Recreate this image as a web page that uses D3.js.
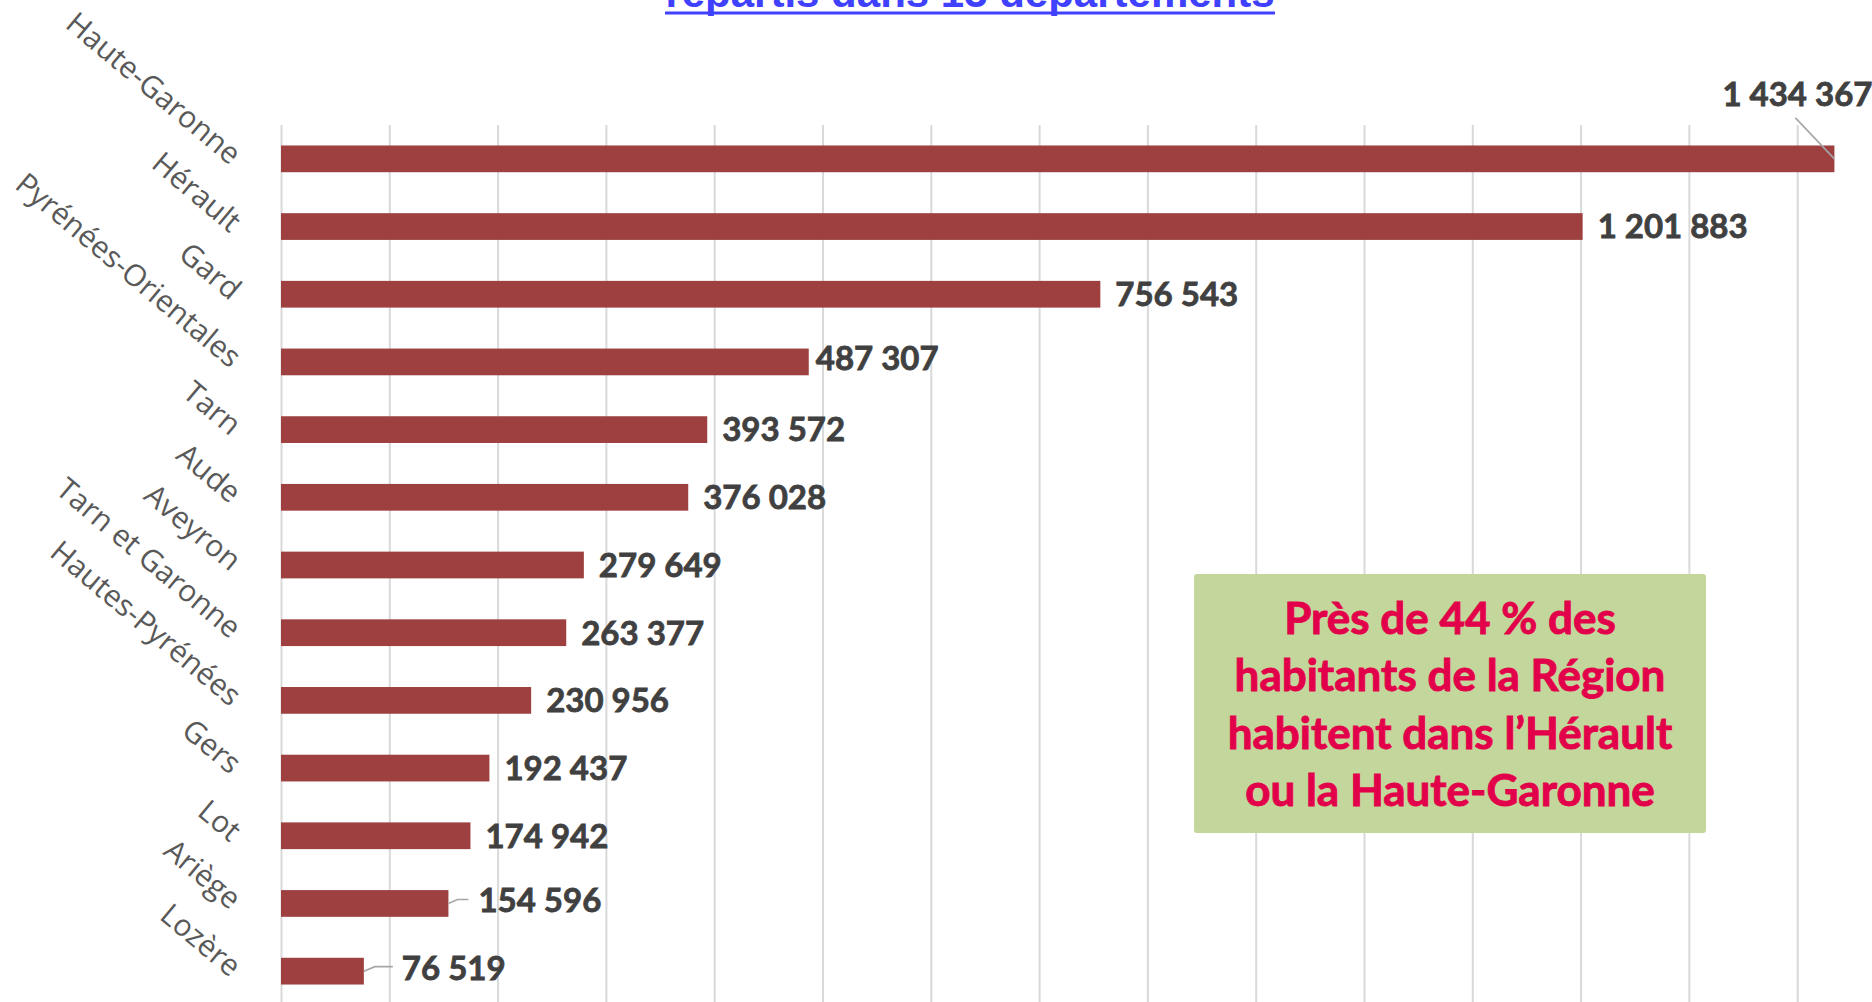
<!DOCTYPE html>
<html>
<head>
<meta charset="utf-8">
<script src="https://cdn.jsdelivr.net/npm/d3@7"></script>
<style>
  body { margin: 0; background: #fff; }
  svg { display: block; }
</style>
</head>
<body>
<div id="chart"></div>
<script>
const departements = ["Haute-Garonne", "Hérault", "Gard", "Pyrénées-Orientales", "Tarn", "Aude",
  "Aveyron", "Tarn et Garonne", "Hautes-Pyrénées", "Gers", "Lot", "Ariège", "Lozère"];
const habitants = [1434367, 1201883, 756543, 487307, 393572, 376028,
  279649, 263377, 230956, 192437, 174942, 154596, 76519];
const gridTicks = d3.range(0, 1500001, 100000);
const titleText = "répartis dans 13 départements";
const noteLines = ["Près de 44 % des", "habitants de la Région", "habitent dans l’Hérault", "ou la Haute-Garonne"];

const W = 1872, H = 1002;
const plotTop = 125, plotBottom = 1005;

const fr = d3.formatLocale({ decimal: ",", thousands: " ", grouping: [3], currency: ["", " €"] });
const fmt = fr.format(",d");

// label placement tweaks (like dragged labels in the original)
const labelNudge = {
  "Haute-Garonne": { dx: -112, dy: -65, leader: [[0, 0], [-39, -41]] },
  "Pyrénées-Orientales": { dx: 7, dy: -3.5 },
  "Ariège": { dx: 30, dy: -3.5, leader: [[0, 0], [9, -4], [20, -4]] },
  "Lozère": { dx: 38, dy: -3.5, leader: [[0, 0], [11, -4.5], [29, -4.5]] }
};

const svg = d3.select("#chart").append("svg")
  .attr("width", W)
  .attr("height", H);

const x = d3.scaleLinear()
  .domain([0, 1500000])
  .range([281, 281 + 15 * 108.3]);

const y = d3.scaleBand()
  .domain(departements)
  .range([plotTop, plotBottom])
  .paddingInner(0.605)
  .paddingOuter(0.3025);

// title (mostly cut off at the top)
svg.append("text")
  .attr("x", 970)
  .attr("y", 7)
  .attr("text-anchor", "middle")
  .attr("font-family", "Liberation Sans, Arial, sans-serif")
  .attr("font-weight", "bold")
  .attr("font-size", 42)
  .attr("fill", "#4040ff")
  .text(titleText);
svg.append("rect")
  .attr("x", 665).attr("y", 11.5)
  .attr("width", 610).attr("height", 3)
  .attr("fill", "#4040ff");

// vertical gridlines
const grid = svg.append("g")
  .attr("transform", `translate(0,${plotTop})`)
  .call(d3.axisTop(x)
    .tickValues(gridTicks)
    .tickSize(-(H - plotTop + 10))
    .tickFormat(""));
grid.select(".domain").remove();
grid.selectAll(".tick line")
  .attr("stroke", "#d9d9d9")
  .attr("stroke-width", 2);

// bars
svg.append("g")
  .selectAll("rect")
  .data(departements)
  .join("rect")
  .attr("x", x(0))
  .attr("y", d => y(d))
  .attr("width", (d, i) => x(habitants[i]) - x(0))
  .attr("height", y.bandwidth())
  .attr("fill", "#9e4040");

// category axis with rotated labels
const yAxis = svg.append("g")
  .attr("transform", "translate(230,7)")
  .call(d3.axisLeft(y).tickSize(0));
yAxis.select(".domain").remove();
yAxis.selectAll(".tick text")
  .attr("x", 0)
  .attr("dy", 0)
  .attr("text-anchor", "end")
  .attr("transform", "rotate(40)")
  .attr("font-family", "Open Sans, sans-serif")
  .attr("font-size", 30)
  .attr("fill", "#595959");

// leader lines
const line = d3.line();
departements.forEach((d, i) => {
  const n = labelNudge[d];
  if (!n || !n.leader) return;
  const x0 = x(habitants[i]), y0 = y(d) + y.bandwidth() / 2;
  svg.append("path")
    .attr("d", line(n.leader.map(p => [x0 + p[0], y0 + p[1]])))
    .attr("fill", "none")
    .attr("stroke", "#a6a6a6")
    .attr("stroke-width", 1.6);
});

// value labels
svg.append("g")
  .selectAll("text")
  .data(departements)
  .join("text")
  .attr("x", (d, i) => x(habitants[i]) + (labelNudge[d] ? labelNudge[d].dx : 15))
  .attr("y", d => y(d) + y.bandwidth() / 2 + (labelNudge[d] ? labelNudge[d].dy : 0))
  .attr("dy", "0.36em")
  .attr("font-family", "Lato, sans-serif")
  .attr("font-weight", "bold")
  .attr("font-size", 33)
  .attr("fill", "#404040")
  .attr("stroke", "#404040")
  .attr("stroke-width", 0.8)
  .text((d, i) => fmt(habitants[i]));

// annotation box
const note = svg.append("g");
note.append("rect")
  .attr("x", 1194).attr("y", 574)
  .attr("width", 512).attr("height", 259)
  .attr("rx", 3)
  .attr("fill", "#c3d69b");
note.selectAll("text")
  .data(noteLines)
  .join("text")
  .attr("x", 1450)
  .attr("y", (d, i) => 634 + i * 57.3)
  .attr("text-anchor", "middle")
  .attr("font-family", "Lato, sans-serif")
  .attr("font-weight", "bold")
  .attr("font-size", 44)
  .attr("fill", "#e3004b")
  .attr("stroke", "#e3004b")
  .attr("stroke-width", 0.9)
  .text(d => d);
</script>
</body>
</html>
